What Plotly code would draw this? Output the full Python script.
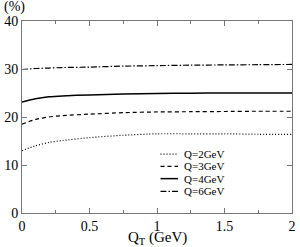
import plotly.graph_objects as go

qt = [0, 0.1, 0.2, 0.3, 0.5, 0.75, 1.0, 1.25, 1.5, 1.75, 2.0]
q2 = [13.0, 14.0, 14.7, 15.1, 15.7, 16.2, 16.5, 16.5, 16.5, 16.4, 16.4]
q3 = [18.5, 19.5, 20.0, 20.3, 20.6, 20.9, 21.05, 21.1, 21.15, 21.2, 21.2]
q4 = [23.1, 23.8, 24.2, 24.4, 24.6, 24.8, 24.9, 24.95, 25.0, 25.0, 25.0]
q6 = [29.9, 30.1, 30.2, 30.3, 30.4, 30.6, 30.7, 30.8, 30.85, 30.9, 30.95]

names = ["Q=2GeV", "Q=3GeV", "Q=4GeV", "Q=6GeV"]
series = [q2, q3, q4, q6]
dashes = ["1px,2px", "4px,3px", "solid", "6px,2px,1.5px,2px"]
widths = [1.2, 1.2, 1.5, 1.2]

x_ticks = [0, 0.5, 1, 1.5, 2]
x_labels = ["0", "0.5", "1", "1.5", "2"]
y_ticks = [0, 10, 20, 30, 40]
y_labels = ["0", "10", "20", "30", "40"]

FONT = "Times New Roman, Liberation Serif, serif"

fig = go.Figure()
for name, ys, d, w in zip(names, series, dashes, widths):
    fig.add_trace(go.Scatter(x=qt, y=ys, mode="lines", name=name,
                             line=dict(color="black", width=w, dash=d, shape="spline", smoothing=0.6),
                             showlegend=False, hoverinfo="skip"))

# manual legend (keys + labels)
leg_y = [0.307, 0.243, 0.179, 0.1125]
for name, d, w, yy in zip(names, dashes, widths, leg_y):
    fig.add_shape(type="line", xref="paper", yref="paper", x0=0.513, x1=0.578, y0=yy, y1=yy,
                  line=dict(color="black", width=w, dash=d))
    fig.add_annotation(xref="paper", yref="paper", x=0.592, y=yy, text=name, showarrow=False,
                       xanchor="left", yanchor="middle", font=dict(family=FONT, size=11, color="black"))

fig.add_annotation(xref="paper", yref="paper", x=0.5, y=-0.075, text="Q<sub>T</sub> (GeV)",
                   showarrow=False, xanchor="center", yanchor="top",
                   font=dict(family=FONT, size=15, color="black"))
fig.add_annotation(xref="paper", yref="paper", x=-0.028, y=1.072, text="(%)",
                   showarrow=False, xanchor="center", yanchor="middle",
                   font=dict(family=FONT, size=14, color="black"))

axis_common = dict(showgrid=False, zeroline=False, showline=True, linecolor="#777", linewidth=1,
                   mirror="allticks", ticks="inside", tickcolor="#777", tickwidth=1,
                   tickfont=dict(family=FONT, size=14, color="black"))
fig.update_xaxes(range=[0, 2], tickvals=x_ticks, ticktext=x_labels, ticklen=5,
                 minor=dict(dtick=0.25, ticks="inside", ticklen=3, tickcolor="#777"), **axis_common)
fig.update_yaxes(range=[0, 40], tickvals=y_ticks, ticktext=y_labels, ticklen=5, **axis_common)

fig.update_layout(width=300, height=247, margin=dict(l=21, r=4, t=21, b=34),
                  paper_bgcolor="white", plot_bgcolor="white", showlegend=False,
                  font=dict(family=FONT))
fig.write_html("out.html", config={"displayModeBar": False, "staticPlot": True},
               post_script="document.body.style.margin='0';document.body.style.overflow='hidden';")
